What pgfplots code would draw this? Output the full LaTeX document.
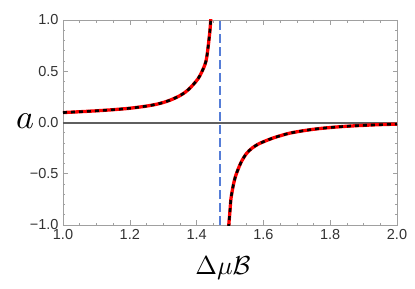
\documentclass[border=0pt]{standalone}
\usepackage{fontspec}
\setmainfont{Liberation Sans}
\usepackage{pgfplots}
\usepackage{pgfplotstable}
\pgfplotsset{compat=1.18}
\definecolor{framegray}{RGB}{160,160,160}
\definecolor{ticktext}{RGB}{50,50,50}
\definecolor{vblue}{RGB}{85,125,215}
\definecolor{zerogray}{RGB}{95,95,95}
\pgfplotstableread{
x y
1.00 0.097
1.05 0.105
1.10 0.114
1.15 0.125
1.20 0.139
1.25 0.160
1.28 0.178
1.30 0.195
1.32 0.217
1.335 0.238
1.35 0.262
1.365 0.293
1.375 0.320
1.39 0.370
1.405 0.430
1.415 0.490
1.425 0.565
1.43 0.630
1.435 0.750
1.44 0.900
1.443 1.030
}\upperbranch
\pgfplotstableread{
x y
1.4955 -1.03
1.50 -0.86
1.503 -0.74
1.51 -0.61
1.516 -0.53
1.525 -0.45
1.536 -0.37
1.55 -0.30
1.566 -0.25
1.585 -0.21
1.606 -0.18
1.63 -0.15
1.655 -0.125
1.68 -0.103
1.72 -0.080
1.75 -0.066
1.78 -0.055
1.83 -0.041
1.88 -0.031
1.94 -0.022
2.00 -0.016
}\lowerbranch
\begin{document}
\begin{tikzpicture}
\useasboundingbox (-63pt,-64pt) rectangle (352pt,225pt);
\begin{axis}[
  at={(0,0)}, anchor=south west,
  scale only axis, width=334pt, height=205pt,
  xmin=1, xmax=2, ymin=-1, ymax=1,
  axis line style={framegray, line width=0.8pt},
  tick style={framegray, line width=0.6pt},
  tick align=inside,
  major tick length=4.5pt, minor tick length=2.5pt,
  xtick={1,1.2,1.4,1.6,1.8,2},
  xticklabels={1.0,1.2,1.4,1.6,1.8,2.0},
  minor xtick={1.05,1.1,1.15,1.25,1.3,1.35,1.45,1.5,1.55,1.65,1.7,1.75,1.85,1.9,1.95},
  ytick={-1,-0.5,0,0.5,1},
  yticklabels={−1.0,−0.5,0.0,0.5,1.0},
  minor ytick={-0.9,-0.8,-0.7,-0.6,-0.4,-0.3,-0.2,-0.1,0.1,0.2,0.3,0.4,0.6,0.7,0.8,0.9},
  ticklabel style={font=\fontsize{14.5}{15}\selectfont, text=ticktext},
  xticklabel style={yshift=-1pt},
  yticklabel style={xshift=-1pt},
  clip=true,
]
\addplot[draw=zerogray, line width=2pt] coordinates {(1,0) (2,0)};
\addplot[draw=vblue, line width=1.2pt, dash pattern=on 9pt off 4pt] coordinates {(1.470,-1) (1.470,1)};
\addplot[red, line width=3.3pt, smooth, tension=0.5] table {\upperbranch};
\addplot[black, line width=2.6pt, dash pattern=on 4pt off 4pt, smooth, tension=0.5] table {\upperbranch};
\addplot[red, line width=3.3pt, smooth, tension=0.5] table {\lowerbranch};
\addplot[black, line width=2.6pt, dash pattern=on 4pt off 4pt, smooth, tension=0.5] table {\lowerbranch};
\end{axis}
\node[anchor=base, scale=3.4] at (-38pt,96.5pt) {$a$};
\node[anchor=base, scale=2.6] at (160pt,-50pt) {$\Delta\mu\mathcal{B}$};
\end{tikzpicture}
\end{document}
